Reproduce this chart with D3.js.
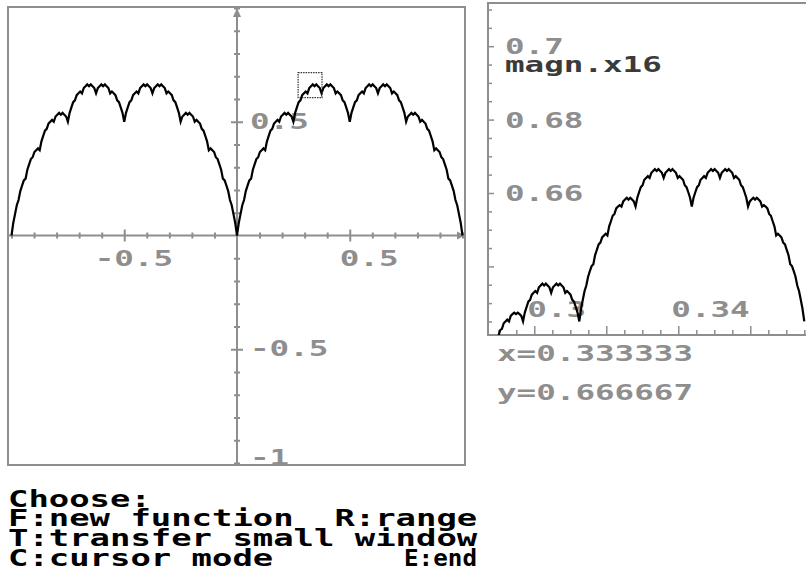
<!DOCTYPE html>
<html>
<head>
<meta charset="utf-8">
<script src="https://cdn.jsdelivr.net/npm/d3@7"></script>
<style>
  html, body { margin: 0; padding: 0; background: #fff; overflow: hidden; }
  svg { display: block; }
  text { font-family: "DejaVu Sans Mono", monospace; font-weight: bold; white-space: pre; }
</style>
</head>
<body>
<div id="chart"></div>
<script>
// curve, one value every 1/128 along x
const curveStep = 1 / 128;
// x = -1 .. 0
const curveNeg = [0, .055, .094, .133, .156, .195, .219, .242, .25,
  .289, .313, .336, .344, .367, .375, .383, .375,
  .414, .438, .461, .469, .492, .5, .508, .5,
  .523, .531, .539, .531, .539, .531, .523, .5,
  .539, .563, .586, .594, .617, .625, .633, .625,
  .648, .656, .664, .656, .664, .656, .648, .625,
  .648, .656, .664, .656, .664, .656, .648, .625,
  .633, .625, .617, .594, .586, .563, .539, .5,
  .539, .563, .586, .594, .617, .625, .633, .625,
  .648, .656, .664, .656, .664, .656, .648, .625,
  .648, .656, .664, .656, .664, .656, .648, .625,
  .633, .625, .617, .594, .586, .563, .539, .5,
  .523, .531, .539, .531, .539, .531, .523, .5,
  .508, .5, .492, .469, .461, .438, .414, .375,
  .383, .375, .367, .344, .336, .313, .289, .25,
  .242, .219, .195, .156, .133, .094, .055, 0];
// x = 0 .. 1
const curvePos = [0, .055, .094, .133, .156, .195, .219, .242, .25,
  .289, .313, .336, .344, .367, .375, .383, .375,
  .414, .438, .461, .469, .492, .5, .508, .5,
  .523, .531, .539, .531, .539, .531, .523, .5,
  .539, .563, .586, .594, .617, .625, .633, .625,
  .648, .656, .664, .656, .664, .656, .648, .625,
  .648, .656, .664, .656, .664, .656, .648, .625,
  .633, .625, .617, .594, .586, .563, .539, .5,
  .539, .563, .586, .594, .617, .625, .633, .625,
  .648, .656, .664, .656, .664, .656, .648, .625,
  .648, .656, .664, .656, .664, .656, .648, .625,
  .633, .625, .617, .594, .586, .563, .539, .5,
  .523, .531, .539, .531, .539, .531, .523, .5,
  .508, .5, .492, .469, .461, .438, .414, .375,
  .383, .375, .367, .344, .336, .313, .289, .25,
  .242, .219, .195, .156, .133, .094, .055, 0];

// small window (magn. x16), starts at x = 0.28662, one value every 1/2048
const zoomX0 = 0.28662;
const zoomStep = 1 / 2048;
const zoomValues = [.6147, .6152, .6167, .6172, .6177, .6172,
  .6196, .6211, .6226, .623, .6245, .625, .6255, .625,
  .6265, .627, .6274, .627, .6274, .627, .6265, .625,
  .6274, .6289, .6304, .6309, .6323, .6328, .6333, .6328,
  .6343, .6348, .6353, .6348, .6353, .6348, .6343, .6328,
  .6343, .6348, .6353, .6348, .6353, .6348, .6343, .6328,
  .6333, .6328, .6323, .6309, .6304, .6289, .6274, .625,
  .6284, .6309, .6333, .6348, .6372, .6387, .6401, .6406,
  .6431, .6445, .646, .6465, .6479, .6484, .6489, .6484,
  .6509, .6523, .6538, .6543, .6558, .6563, .6567, .6563,
  .6577, .6582, .6587, .6582, .6587, .6582, .6577, .6563,
  .6587, .6602, .6616, .6621, .6636, .6641, .6646, .6641,
  .6655, .666, .6665, .666, .6665, .666, .6655, .6641,
  .6655, .666, .6665, .666, .6665, .666, .6655, .6641,
  .6646, .6641, .6636, .6621, .6616, .6602, .6587, .6563,
  .6587, .6602, .6616, .6621, .6636, .6641, .6646, .6641,
  .6655, .666, .6665, .666, .6665, .666, .6655, .6641,
  .6655, .666, .6665, .666, .6665, .666, .6655, .6641,
  .6646, .6641, .6636, .6621, .6616, .6602, .6587, .6563,
  .6577, .6582, .6587, .6582, .6587, .6582, .6577, .6563,
  .6567, .6563, .6558, .6543, .6538, .6523, .6509, .6484,
  .6489, .6484, .6479, .6465, .646, .6445, .6431, .6406,
  .6401, .6387, .6372, .6348, .6333, .6309, .6284, .625];

// ticks and labels
const mainTicks = [-1, -0.9, -0.8, -0.7, -0.6, -0.5, -0.4, -0.3, -0.2, -0.1,
  0.1, 0.2, 0.3, 0.4, 0.5, 0.6, 0.7, 0.8, 0.9, 1];
const mainXLabels = [-0.5, 0.5];
const mainYLabels = [0.5, -0.5, -1];
const zoomXTicks = [0.29, 0.295, 0.3, 0.305, 0.31, 0.315, 0.32, 0.325, 0.33, 0.335,
  0.34, 0.345, 0.35, 0.355, 0.36, 0.365, 0.37, 0.375];
const zoomYTicks = [0.625, 0.63, 0.635, 0.64, 0.645, 0.65, 0.655, 0.66, 0.665, 0.67,
  0.675, 0.68, 0.685, 0.69, 0.695, 0.7, 0.705, 0.71];
const zoomXLabels = [0.3, 0.34];
const zoomYLabels = [0.7, 0.68, 0.66];

// cursor and the marked area in the big window
const cursorX = "0.333333";
const cursorY = "0.666667";
const boxX = [0.271, 0.377];
const boxY = [0.606, 0.716];

const menuLines = [
  "Choose:",
  "F:new function  R:range",
  "T:transfer small window",
  "C:cursor mode"
];
const menuEnd = "E:end";

const W = 806, H = 571;
const grey = "#8e8e8e";
const cell = 19.6;      // width of one character cell on that screen
const menuCell = 20.4;

const svg = d3.select("#chart").append("svg")
  .attr("width", W).attr("height", H);

function label(str, x, y, fill) {
  return svg.append("text")
    .attr("x", x).attr("y", y)
    .attr("font-size", 21)
    .attr("fill", fill || grey)
    .attr("textLength", str.length * cell)
    .attr("lengthAdjust", "spacingAndGlyphs")
    .text(str);
}

// ---- big window ----
const mx = d3.scaleLinear().domain([-1, 1]).range([11.5, 462.5]);
const my = d3.scaleLinear().domain([-1, 1]).range([463, 8]);

svg.append("rect")
  .attr("x", 8).attr("y", 7).attr("width", 457).attr("height", 458)
  .attr("fill", "none").attr("stroke", grey).attr("stroke-width", 2);

const tickLen = d => (Math.abs(Math.abs(d) - 0.5) < 1e-9 ? 6 : 3);

const xAxis = svg.append("g")
  .attr("transform", `translate(0,${my(0)})`)
  .call(d3.axisBottom(mx).tickValues(mainTicks).tickSizeOuter(0).tickFormat(""));
xAxis.select(".domain").remove();
xAxis.selectAll(".tick line")
  .attr("y1", d => -tickLen(d)).attr("y2", d => tickLen(d))
  .attr("stroke", grey).attr("stroke-width", 2);
xAxis.append("line")
  .attr("x1", 8).attr("x2", 463).attr("y1", 0).attr("y2", 0)
  .attr("stroke", grey).attr("stroke-width", 2);
xAxis.append("path")
  .attr("d", "M465,0 L457,-4 L457,4 Z").attr("fill", grey);

const yAxis = svg.append("g")
  .attr("transform", `translate(${mx(0)},0)`)
  .call(d3.axisLeft(my).tickValues(mainTicks).tickSizeOuter(0).tickFormat(""));
yAxis.select(".domain").remove();
yAxis.selectAll(".tick line")
  .attr("x1", d => -tickLen(d)).attr("x2", d => tickLen(d))
  .attr("stroke", grey).attr("stroke-width", 2);
yAxis.append("line")
  .attr("x1", 0).attr("x2", 0).attr("y1", 9).attr("y2", 465)
  .attr("stroke", grey).attr("stroke-width", 2);
yAxis.append("path")
  .attr("d", "M0,8 L-4,17 L4,17 Z").attr("fill", grey);

mainXLabels.forEach(v => {
  const s = String(v);
  label(s, mx(v) - 10 - (v < 0 ? cell : 0), my(0) + 30);
});
mainYLabels.forEach(v => {
  label(String(v), mx(0) + 13, Math.min(my(v) + 7, 465));
});

const mainPts = curveNeg.map((v, i) => [-1 + i * curveStep, v])
  .concat(curvePos.map((v, i) => [i * curveStep, v]));
const mainLine = d3.line().x(d => mx(d[0])).y(d => my(d[1]));
svg.append("path")
  .attr("d", mainLine(mainPts))
  .attr("fill", "none").attr("stroke", "#000").attr("stroke-width", 2.2)
  .attr("stroke-linejoin", "miter");

svg.append("rect")
  .attr("x", mx(boxX[0])).attr("y", my(boxY[1]))
  .attr("width", mx(boxX[1]) - mx(boxX[0])).attr("height", my(boxY[0]) - my(boxY[1]))
  .attr("fill", "none").attr("stroke", "#333").attr("stroke-width", 1.2)
  .attr("stroke-dasharray", "1.5 1");

// ---- small window ----
const zx = d3.scaleLinear().domain([0.3, 0.34]).range([534.3, 678.3]);
const zy = d3.scaleLinear().domain([0.66, 0.7]).range([193, 46.2]);
const zLeft = 488, zTop = 3, zBottom = 335;

svg.append("clipPath").attr("id", "zclip")
  .append("rect").attr("x", zLeft).attr("y", zTop)
  .attr("width", W - zLeft).attr("height", zBottom - zTop);

svg.append("path")
  .attr("d", `M${W + 2},${zTop} H${zLeft} V${zBottom} H${W + 2}`)
  .attr("fill", "none").attr("stroke", grey).attr("stroke-width", 2);

const bigZ = d => Math.abs(d * 50 - Math.round(d * 50)) < 1e-6;

svg.append("g")
  .attr("transform", `translate(0,${zBottom})`)
  .call(d3.axisTop(zx).tickValues(zoomXTicks).tickSizeOuter(0).tickFormat(""))
  .call(g => g.select(".domain").remove())
  .call(g => g.selectAll(".tick line")
    .attr("y2", d => (bigZ(d) ? -9 : -5))
    .attr("stroke", grey).attr("stroke-width", 1.5));

svg.append("g")
  .attr("transform", `translate(${zLeft},0)`)
  .call(d3.axisRight(zy).tickValues(zoomYTicks).tickSizeOuter(0).tickFormat(""))
  .call(g => g.select(".domain").remove())
  .call(g => g.selectAll(".tick line")
    .attr("x2", d => (bigZ(d) ? 6 : 4))
    .attr("stroke", grey).attr("stroke-width", 1.5));

zoomYLabels.forEach(v => label(String(v), zLeft + 17, zy(v) + 8));
zoomXLabels.forEach(v => label(String(v), zx(v) - 7, 317));
label("magn.x16", zLeft + 17, 72, "#3a3a3a");

const zoomPts = zoomValues.map((v, i) => [zoomX0 + i * zoomStep, v]);
const zoomLine = d3.line().x(d => zx(d[0])).y(d => zy(d[1]));
svg.append("path")
  .attr("clip-path", "url(#zclip)")
  .attr("d", zoomLine(zoomPts))
  .attr("fill", "none").attr("stroke", "#000").attr("stroke-width", 2.2);

// cursor readout
label("x=" + cursorX, 497, 361);
label("y=" + cursorY, 497, 399.5);

// ---- menu ----
function menuText(s, x, y, len) {
  svg.append("text")
    .attr("xml:space", "preserve")
    .attr("x", x).attr("y", y)
    .attr("font-size", 23)
    .attr("fill", "#000")
    .attr("textLength", len)
    .attr("lengthAdjust", "spacingAndGlyphs")
    .text(s);
}
menuLines.forEach((s, i) => menuText(s, 8, 506.5 + i * 19.7, s.length * menuCell));
menuText(menuEnd, 404, 506.5 + 3 * 19.7, 73);
</script>
</body>
</html>
